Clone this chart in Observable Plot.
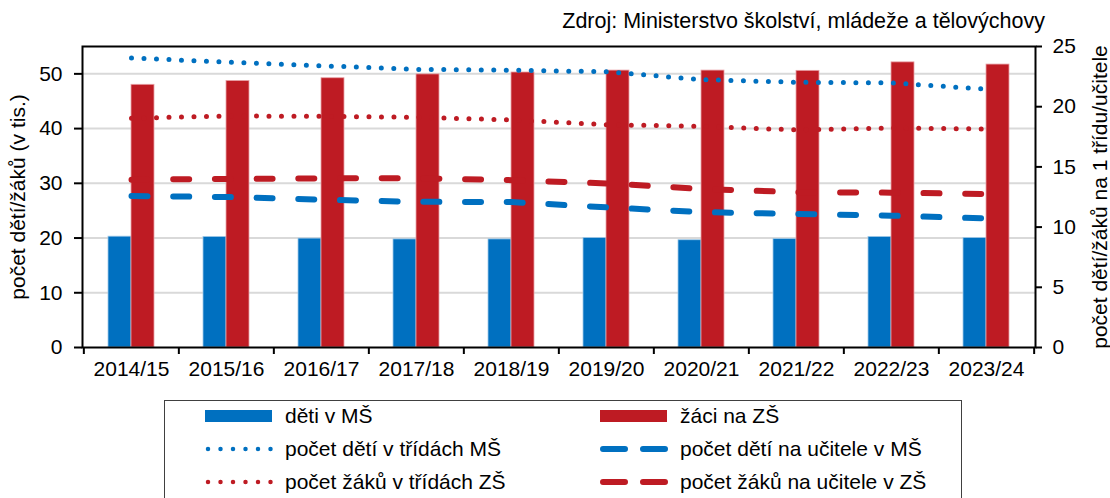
<!DOCTYPE html>
<html>
<head>
<meta charset="utf-8">
<script src="https://cdn.jsdelivr.net/npm/d3@7"></script>
<script src="https://cdn.jsdelivr.net/npm/@observablehq/plot@0.6"></script>
<style>
  html, body { margin: 0; padding: 0; background: #fff; }
  body { width: 1110px; height: 498px; overflow: hidden; font-family: "Liberation Sans", Arial, sans-serif; color: #000; position: relative; }
  #source { position: absolute; top: 0; left: 0; width: 1110px; height: 36px; box-sizing: border-box; padding-top: 9px; font-size: 21.5px; line-height: 24px; text-align: right; padding-right: 65px; z-index: 2; }
  #chart svg { display: block; }
  #legend { position: relative; margin-left: 164px; margin-top: 8px; width: 798px; height: 120px; border: 1px solid #404040; box-sizing: border-box; }
  .item { position: absolute; display: flex; align-items: center; font-size: 21px; height: 24px; }
  .item svg { margin-right: 12px; }
</style>
</head>
<body>
<div id="chart"></div>
<div id="source">Zdroj: Ministerstvo školství, mládeže a tělovýchovy</div>
<div id="legend"></div>
<script>
// ---- data ----
const years = ["2014/15","2015/16","2016/17","2017/18","2018/19","2019/20","2020/21","2021/22","2022/23","2023/24"];
const detiMS = [20.25, 20.2, 19.9, 19.75, 19.75, 20.0, 19.6, 19.8, 20.2, 20.0];          // left axis (tis.)
const zaciZS = [48.0, 48.7, 49.2, 49.9, 50.25, 50.6, 50.6, 50.55, 52.1, 51.7];           // left axis (tis.)
const detiTridaMS = [24.05, 23.7, 23.4, 23.1, 23.03, 22.9, 22.25, 22.03, 21.98, 21.45];  // right axis
const zaciTridaZS = [19.04, 19.23, 19.2, 19.12, 18.9, 18.5, 18.37, 18.07, 18.23, 18.15]; // right axis
const detiUcitelMS = [12.58, 12.5, 12.28, 12.1, 12.08, 11.64, 11.25, 11.09, 10.95, 10.72]; // right axis
const zaciUcitelZS = [13.94, 14.0, 14.05, 14.05, 13.9, 13.63, 13.17, 12.9, 12.86, 12.75];   // right axis
const leftTicks = [0, 10, 20, 30, 40, 50];
const rightTicks = [0, 5, 10, 15, 20, 25];
const leftMax = 55, rightMax = 25;
const leftTitle = "počet dětí/žáků (v tis.)";
const rightTitle = "počet dětí/žáků na 1 třídu/učitele";

const labels = {
  detiMS: "děti v MŠ",
  zaciZS: "žáci na ZŠ",
  detiTridaMS: "počet dětí v třídách MŠ",
  detiUcitelMS: "počet dětí na učitele v MŠ",
  zaciTridaZS: "počet žáků v třídách ZŠ",
  zaciUcitelZS: "počet žáků na učitele v ZŠ"
};

const BLUE = "#0070C0", RED = "#BE1B23";

// ---- layout ----
const W = 1110, H = 392, mL = 82, mR = 75, mT = 46, mB = 45;
const pInner = 0.517;
const step = (W - mL - mR) / years.length;
const bw = step * (1 - pInner);
const k = leftMax / rightMax;

const rows = years.map((y, i) => ({year: y, detiMS: detiMS[i], zaciZS: zaciZS[i],
  detiTridaMS: detiTridaMS[i], zaciTridaZS: zaciTridaZS[i], detiUcitelMS: detiUcitelMS[i], zaciUcitelZS: zaciUcitelZS[i]}));

const dotted = {strokeWidth: 5, strokeDasharray: "0 12.5", strokeLinecap: "round"};
const dashed = {strokeWidth: 6, strokeDasharray: "16 25.7", strokeLinecap: "round"};

const chart = Plot.plot({
  width: W, height: H,
  marginLeft: mL, marginRight: mR, marginTop: mT, marginBottom: mB,
  style: {fontFamily: "'Liberation Sans', Arial, sans-serif", fontSize: "21px", color: "#000", background: "#fff"},
  x: {type: "band", domain: years, paddingInner: pInner, paddingOuter: pInner / 2},
  y: {domain: [0, leftMax]},
  marks: [
    Plot.gridY(leftTicks.filter(t => t > 0), {stroke: "#d9d9d9", strokeOpacity: 1, strokeWidth: 2}),
    Plot.barY(rows, {x: "year", y: "detiMS", fill: BLUE, insetRight: bw / 2, stroke: "#9ec8e8", strokeWidth: 0.8}),
    Plot.barY(rows, {x: "year", y: "zaciZS", fill: RED, insetLeft: bw / 2, stroke: "#e8a0a5", strokeWidth: 0.8}),
    Plot.lineY(rows, {x: "year", y: d => d.zaciUcitelZS * k, stroke: RED, ...dashed}),
    Plot.lineY(rows, {x: "year", y: d => d.detiUcitelMS * k, stroke: BLUE, ...dashed}),
    Plot.lineY(rows, {x: "year", y: d => d.zaciTridaZS * k, stroke: RED, ...dotted}),
    Plot.lineY(rows, {x: "year", y: d => d.detiTridaMS * k, stroke: BLUE, ...dotted}),
    Plot.frame({stroke: "#000", strokeWidth: 2}),
    Plot.axisY({anchor: "left", ticks: leftTicks, tickSize: 8, tickPadding: 12, strokeWidth: 2, label: null}),
    Plot.axisY({anchor: "right", ticks: rightTicks.map(v => v * k), tickFormat: d => String(Math.round(d / k)),
      tickSize: 6, tickPadding: 11, strokeWidth: 2, label: null}),
    Plot.text([leftTitle], {text: d => d, frameAnchor: "left", textAnchor: "middle", rotate: -90, dx: -64, fontSize: 21}),
    Plot.text([rightTitle], {text: d => d, frameAnchor: "right", textAnchor: "middle", rotate: -90, dx: 65, fontSize: 21}),
    Plot.axisX({tickSize: 7, strokeWidth: 2, tickFormat: () => "", dx: -step / 2, label: null}),
    Plot.axisX({ticks: [years[years.length - 1]], tickSize: 7, strokeWidth: 2, tickFormat: () => "", dx: step / 2, label: null}),
    Plot.axisX({tickSize: 0, tickPadding: 14, label: null})
  ]
});
document.getElementById("chart").appendChild(chart);

// ---- legend ----
function swatch(type, color) {
  const ns = "http://www.w3.org/2000/svg";
  const s = document.createElementNS(ns, "svg");
  s.setAttribute("width", 68); s.setAttribute("height", 20);
  if (type === "bar") {
    const r = document.createElementNS(ns, "rect");
    r.setAttribute("x", 0); r.setAttribute("y", 4); r.setAttribute("width", 67); r.setAttribute("height", 12);
    r.setAttribute("fill", color); s.appendChild(r);
  } else {
    const l = document.createElementNS(ns, "line");
    if (type === "dot") {
      l.setAttribute("x1", 3); l.setAttribute("x2", 66);
      l.setAttribute("stroke-width", 4.5); l.setAttribute("stroke-dasharray", "0 12.5");
    } else {
      l.setAttribute("x1", 3); l.setAttribute("x2", 66);
      l.setAttribute("stroke-width", 6); l.setAttribute("stroke-dasharray", "22 18");
    }
    l.setAttribute("y1", 10); l.setAttribute("y2", 10);
    l.setAttribute("stroke", color); l.setAttribute("stroke-linecap", "round");
    s.appendChild(l);
  }
  return s;
}
const legendItems = [
  {key: "detiMS", type: "bar", color: BLUE, col: 0, row: 0},
  {key: "zaciZS", type: "bar", color: RED, col: 1, row: 0},
  {key: "detiTridaMS", type: "dot", color: BLUE, col: 0, row: 1},
  {key: "detiUcitelMS", type: "dash", color: BLUE, col: 1, row: 1},
  {key: "zaciTridaZS", type: "dot", color: RED, col: 0, row: 2},
  {key: "zaciUcitelZS", type: "dash", color: RED, col: 1, row: 2}
];
const legend = document.getElementById("legend");
for (const it of legendItems) {
  const d = document.createElement("div");
  d.className = "item";
  d.style.left = (it.col === 0 ? 40 : 435) + "px";
  d.style.top = (3 + it.row * 33) + "px";
  d.appendChild(swatch(it.type, it.color));
  const t = document.createElement("span");
  t.textContent = labels[it.key];
  d.appendChild(t);
  legend.appendChild(d);
}
</script>
</body>
</html>
